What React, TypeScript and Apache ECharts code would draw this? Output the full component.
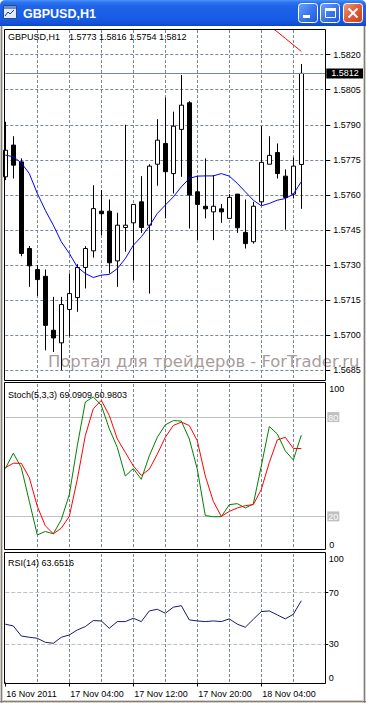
import React, { useEffect, useRef } from 'react';
import * as echarts from 'echarts';

const FONT = '"Liberation Sans", Arial, sans-serif';

const symbolName = 'GBPUSD,H1';

// Hourly bar times (38 bars + 3 empty future slots)
const barTimes: string[] = [];
for (let i = 0; i < 41; i++) {
  const h = 20 + i;
  const day = 16 + Math.floor(h / 24);
  barTimes.push(`2011.11.${day} ${String(h % 24).padStart(2, '0')}:00`);
}

const timeTickLabels = ['16 Nov 2011', '17 Nov 04:00', '17 Nov 12:00', '17 Nov 20:00', '18 Nov 04:00'];
const priceTicks = [1.5685, 1.57, 1.5715, 1.573, 1.5745, 1.576, 1.5775, 1.579, 1.5805, 1.582];
const stochLabelValues = [0, 20, 80, 100];
const stochLevels = [20, 80];
const rsiLabelValues = [0, 30, 70, 100];
const rsiLevels = [30, 70];

const openP = [1.57677, 1.57813, 1.57741, 1.5737, 1.5728, 1.57251, 1.5702, 1.56966, 1.57109, 1.5716,
  1.57289, 1.5736, 1.5753, 1.5753, 1.57317, 1.5746, 1.5748, 1.5757, 1.5747, 1.57731,
  1.5782, 1.57691, 1.5788, 1.57994, 1.57613, 1.57551, 1.57527, 1.5754, 1.57499, 1.57603,
  1.57439, 1.57399, 1.5757, 1.57731, 1.57781, 1.5768, 1.57603, 1.5773];
const closeP = [1.57791, 1.57727, 1.57349, 1.57296, 1.57237, 1.57041, 1.56987, 1.5713, 1.57177, 1.57289,
  1.5737, 1.57541, 1.57519, 1.57309, 1.5747, 1.5747, 1.57559, 1.5746, 1.57723, 1.57834,
  1.57699, 1.57894, 1.57984, 1.57599, 1.57559, 1.5754, 1.57551, 1.57527, 1.57589, 1.57459,
  1.57391, 1.57551, 1.57739, 1.57769, 1.57691, 1.57589, 1.57723, 1.5812];
const lowP = [1.57663, 1.5767, 1.57337, 1.57206, 1.57167, 1.56934, 1.56927, 1.56849, 1.56994, 1.57099,
  1.57199, 1.57331, 1.57427, 1.57263, 1.57206, 1.57356, 1.57234, 1.57437, 1.57177, 1.57639,
  1.57499, 1.57606, 1.57677, 1.57456, 1.57406, 1.57499, 1.57406, 1.5748, 1.57499, 1.57437,
  1.5737, 1.57391, 1.57556, 1.57731, 1.5767, 1.57451, 1.57584, 1.5754];
const highP = [1.57913, 1.57851, 1.57756, 1.57381, 1.57299, 1.5728, 1.57163, 1.57163, 1.57263, 1.57303,
  1.5738, 1.57641, 1.5762, 1.5758, 1.57523, 1.579, 1.5756, 1.5768, 1.57731, 1.57924,
  1.58016, 1.57956, 1.58113, 1.58001, 1.5768, 1.57756, 1.57684, 1.5756, 1.57603, 1.57603,
  1.5758, 1.5757, 1.57894, 1.57851, 1.5782, 1.57709, 1.5776, 1.5816];

const maValues = [1.5777, 1.57763, 1.57737, 1.57691, 1.57606, 1.57534, 1.5747, 1.57399, 1.57349, 1.57291,
  1.57263, 1.57246, 1.57256, 1.57259, 1.57284, 1.57327, 1.57384, 1.5742, 1.57466, 1.5752,
  1.57556, 1.57591, 1.57634, 1.5767, 1.5768, 1.57681, 1.57681, 1.57691, 1.5768, 1.57649,
  1.57613, 1.57577, 1.57553, 1.57563, 1.57577, 1.57584, 1.57603, 1.57656];
const redLine: (number | null)[] = [null, null, null, null, null, null, null, null, null, null,
  null, null, null, null, null, null, null, null, null, null,
  null, null, null, null, null, null, null, null, null, null,
  null, null, null, 1.58325, 1.58298, 1.5827, 1.58242, 1.58214];

const stochK = [48.9, 58.2, 49.5, 29.1, 8.8, 10.9, 9.5, 18.0, 33.2, 62.7,
  89.1, 92.2, 87.1, 72.9, 61.7, 44.4, 48.9, 42.4, 56.6, 67.8,
  75.3, 77.9, 77.6, 66.8, 48.5, 20.5, 19.8, 19.8, 27.1, 27.7,
  25.1, 27.5, 50.5, 74.3, 69.8, 59.6, 54.1, 69.0909];
const stochD = [49.5, 52.1, 52.1, 43.4, 26.1, 14.3, 9.5, 12.9, 20.0, 42.4,
  68.8, 85.1, 90.1, 81.0, 66.8, 58.7, 50.5, 44.8, 48.5, 57.6,
  67.8, 74.9, 77.0, 74.9, 65.7, 44.4, 29.1, 20.0, 23.0, 25.1,
  26.5, 27.1, 36.3, 52.6, 66.2, 67.8, 61.1, 60.9803];
const rsiValues = [45.4, 44.0, 36.2, 35.2, 34.4, 31.3, 30.5, 35.2, 37.0, 40.9,
  43.5, 48.2, 47.9, 42.2, 47.4, 47.4, 50.0, 47.4, 55.7, 57.0,
  53.9, 58.6, 59.8, 48.7, 47.9, 47.4, 47.9, 47.4, 49.5, 45.4,
  43.0, 49.2, 55.2, 55.7, 52.6, 49.5, 53.1, 63.6516];

const PRICE_MIN = 1.56807;
const PRICE_MAX = 1.583058;

function buildOption() {
  const last = openP.length - 1;
  const candleData = openP.map((o, i) => [o, closeP[i], lowP[i], highP[i]]);
  const gridColor = '#778899';
  const vGrid = (idx: number) => idx % 4 === 0 && idx > 0 && idx < 40;
  const timeTick = (idx: number) => idx % 8 === 0 && idx / 8 < timeTickLabels.length;

  const xAxes = [0, 1, 2].map((g) => ({
    type: 'category',
    gridIndex: g,
    data: barTimes,
    boundaryGap: false,
    axisLine: { show: false },
    axisTick: { show: g === 2, interval: timeTick, length: 4, lineStyle: { color: '#000' } },
    axisLabel: {
      show: g === 2,
      interval: timeTick,
      formatter: (_v: string, idx: number) => timeTickLabels[idx / 8] ?? '',
      align: 'left',
      margin: 7,
      color: '#000',
      fontSize: 9,
      fontFamily: FONT,
      padding: [0, 0, 0, 1],
    },
    splitLine: { show: true, interval: vGrid, lineStyle: { color: gridColor, type: [3, 2], width: 1 } },
  }));

  const graphics: any[] = [
    // window frame
    { type: 'rect', shape: { x: 0, y: 26, width: 3, height: 677 }, style: { fill: '#D4D0C8' }, z: 120, silent: true },
    { type: 'line', shape: { x1: 1.5, y1: 26, x2: 1.5, y2: 703 }, style: { stroke: '#808080', lineWidth: 1 }, z: 121, silent: true },
    { type: 'rect', shape: { x: 363, y: 26, width: 3, height: 677 }, style: { fill: '#D4D0C8' }, z: 120, silent: true },
    { type: 'line', shape: { x1: 364.5, y1: 26, x2: 364.5, y2: 703 }, style: { stroke: '#808080', lineWidth: 1 }, z: 121, silent: true },
    { type: 'rect', shape: { x: 0, y: 700, width: 366, height: 3 }, style: { fill: '#D4D0C8' }, z: 120, silent: true },
    { type: 'line', shape: { x1: 0, y1: 701.5, x2: 366, y2: 701.5 }, style: { stroke: '#808080', lineWidth: 1 }, z: 121, silent: true },
    // title bar
    {
      type: 'rect', shape: { x: 0, y: 0, width: 366, height: 26, r: [5, 5, 0, 0] }, z: 120, silent: true,
      style: {
        fill: {
          type: 'linear', x: 0, y: 0, x2: 0, y2: 1,
          colorStops: [
            { offset: 0, color: '#4B93FA' }, { offset: 0.1, color: '#2B72EF' }, { offset: 0.25, color: '#1E63E8' },
            { offset: 0.7, color: '#175CE5' }, { offset: 0.9, color: '#1352DA' }, { offset: 1, color: '#0C45C4' },
          ],
        },
      },
    },
    // icon
    { type: 'rect', shape: { x: 3.5, y: 5.5, width: 13, height: 13 }, style: { fill: '#E4EAF4', stroke: '#2A4A8A', lineWidth: 1 }, z: 122, silent: true },
    { type: 'rect', shape: { x: 4, y: 6, width: 12, height: 3 }, style: { fill: '#6A8FD0' }, z: 123, silent: true },
    { type: 'polyline', shape: { points: [[5, 16], [8, 12], [10, 14], [14, 10]] }, style: { stroke: '#1040A0', lineWidth: 1, fill: 'none' }, z: 123, silent: true },
    { type: 'text', x: 23, y: 13.5, z: 123, silent: true, style: { text: symbolName, fill: '#FFFFFF', fontSize: 12.5, fontWeight: 'bold', fontFamily: FONT, verticalAlign: 'middle' } },
    // buttons
    ...[298.5, 320.5].map((bx) => ({
      type: 'rect', shape: { x: bx, y: 3.5, width: 19, height: 19, r: 3 }, z: 122, silent: true,
      style: {
        stroke: '#FFFFFF', lineWidth: 1,
        fill: { type: 'linear', x: 0, y: 0, x2: 1, y2: 1, colorStops: [{ offset: 0, color: '#6FA4FB' }, { offset: 0.5, color: '#3B78EC' }, { offset: 1, color: '#2258D8' }] },
      },
    })),
    {
      type: 'rect', shape: { x: 343.5, y: 3.5, width: 19, height: 19, r: 3 }, z: 122, silent: true,
      style: {
        stroke: '#FFFFFF', lineWidth: 1,
        fill: { type: 'linear', x: 0, y: 0, x2: 1, y2: 1, colorStops: [{ offset: 0, color: '#F0A080' }, { offset: 0.45, color: '#E0603A' }, { offset: 1, color: '#C8401C' }] },
      },
    },
    { type: 'rect', shape: { x: 303, y: 15, width: 7, height: 3 }, style: { fill: '#FFFFFF' }, z: 123, silent: true },
    { type: 'rect', shape: { x: 325.5, y: 8.5, width: 10, height: 9 }, style: { fill: 'none', stroke: '#FFFFFF', lineWidth: 1 }, z: 123, silent: true },
    { type: 'rect', shape: { x: 325, y: 8, width: 11, height: 3 }, style: { fill: '#FFFFFF' }, z: 123, silent: true },
    { type: 'line', shape: { x1: 348.5, y1: 8.5, x2: 357.5, y2: 17.5 }, style: { stroke: '#FFFFFF', lineWidth: 2 }, z: 123, silent: true },
    { type: 'line', shape: { x1: 357.5, y1: 8.5, x2: 348.5, y2: 17.5 }, style: { stroke: '#FFFFFF', lineWidth: 2 }, z: 123, silent: true },
    // pane borders
    { type: 'rect', shape: { x: 4.5, y: 29.5, width: 321, height: 351 }, style: { fill: 'none', stroke: '#000', lineWidth: 1 }, z: 100, silent: true },
    { type: 'rect', shape: { x: 4.5, y: 382.5, width: 321, height: 167 }, style: { fill: 'none', stroke: '#000', lineWidth: 1 }, z: 100, silent: true },
    { type: 'rect', shape: { x: 4.5, y: 552.5, width: 321, height: 131 }, style: { fill: 'none', stroke: '#000', lineWidth: 1 }, z: 100, silent: true },
    // pane captions
    { type: 'text', x: 8, y: 37, z: 101, silent: true, style: { text: symbolName, fill: '#000', fontSize: 9, fontFamily: FONT, verticalAlign: 'middle' } },
    {
      type: 'text', x: 69, y: 37, z: 101, silent: true,
      style: { text: `${openP[last].toFixed(4)} ${highP[last].toFixed(4)} ${lowP[last].toFixed(4)} ${closeP[last].toFixed(4)}`, fill: '#000', fontSize: 9, fontFamily: FONT, verticalAlign: 'middle' },
    },
    {
      type: 'text', x: 8, y: 395, z: 101, silent: true,
      style: { text: `Stoch(5,3,3) ${stochK[last].toFixed(4)} ${stochD[last].toFixed(4)}`, fill: '#000', fontSize: 9, fontFamily: FONT, verticalAlign: 'middle' },
    },
    {
      type: 'text', x: 8, y: 562.5, z: 101, silent: true,
      style: { text: `RSI(14) ${rsiValues[last].toFixed(4)}`, fill: '#000', fontSize: 9, fontFamily: FONT, verticalAlign: 'middle' },
    },
    // watermark
    {
      type: 'text', x: 48, y: 361, z: 1, silent: true,
      style: { text: 'Портал для трейдеров - ForTrader.ru', fill: '#A99C9C', fontSize: 16.4, fontFamily: '"DejaVu Sans", Verdana, sans-serif', verticalAlign: 'middle' },
    },
  ];

  return {
    animation: false,
    backgroundColor: '#FFFFFF',
    textStyle: { fontFamily: FONT, fontSize: 9 },
    grid: [
      { left: 5.3, top: 30, width: 320, height: 350 },
      { left: 5.3, top: 384, width: 320, height: 165.5 },
      { left: 5.3, top: 554, width: 320, height: 128.5 },
    ],
    xAxis: xAxes,
    yAxis: [
      {
        type: 'value', gridIndex: 0, position: 'right', min: PRICE_MIN, max: PRICE_MAX, scale: true,
        axisLine: { show: false },
        axisTick: { show: true, customValues: priceTicks, length: 5, lineStyle: { color: '#000' } },
        axisLabel: { customValues: priceTicks, formatter: (v: number) => v.toFixed(4), margin: 8, color: '#000', fontSize: 9, fontFamily: FONT },
        splitLine: { show: true, lineStyle: { color: gridColor, type: [3, 2], width: 1 } },
      },
      {
        type: 'value', gridIndex: 1, position: 'right', min: 0, max: 100,
        axisLine: { show: false },
        axisTick: { show: false, customValues: stochLevels },
        axisLabel: {
          customValues: stochLabelValues,
          formatter: (v: number) => (stochLevels.includes(v) ? `{lv|${v}}` : `{pl|${v}}`),
          margin: 2,
          verticalAlignMinLabel: 'bottom',
          verticalAlignMaxLabel: 'top',
          rich: {
            lv: { backgroundColor: '#C0C0C0', color: '#FFFFFF', padding: [1, 1, 0, 1], fontSize: 9, fontFamily: FONT },
            pl: { color: '#000', padding: [0, 0, 0, 2], fontSize: 9, fontFamily: FONT },
          },
        },
        splitLine: { show: true, lineStyle: { color: '#C0C0C0', type: 'solid', width: 1 } },
      },
      {
        type: 'value', gridIndex: 2, position: 'right', min: 0, max: 100,
        axisLine: { show: false },
        axisTick: { show: true, customValues: rsiLevels, length: 3, lineStyle: { color: '#000' } },
        axisLabel: {
          customValues: rsiLabelValues, margin: 3.5, color: '#000', fontSize: 9, fontFamily: FONT,
          verticalAlignMinLabel: 'bottom', verticalAlignMaxLabel: 'top',
        },
        splitLine: { show: true, lineStyle: { color: '#C0C0C0', type: [4, 2], width: 1 } },
      },
    ],
    series: [
      {
        type: 'candlestick', xAxisIndex: 0, yAxisIndex: 0, data: candleData, barWidth: 4,
        itemStyle: { color: '#FFFFFF', color0: '#000000', borderColor: '#000000', borderColor0: '#000000', borderWidth: 1 },
        markLine: {
          silent: true, symbol: ['none', 'none'], animation: false, precision: 5,
          lineStyle: { color: '#778899', type: 'solid', width: 1 },
          label: {
            show: true, position: 'end', distance: 1, formatter: (p: any) => Number(p.value).toFixed(4),
            backgroundColor: '#000', color: '#FFF', padding: [1, 5, 0, 5], fontSize: 9, fontFamily: FONT,
          },
          data: [{ yAxis: closeP[last] }],
        },
      },
      { type: 'line', xAxisIndex: 0, yAxisIndex: 0, data: maValues, showSymbol: false, symbol: 'none', lineStyle: { color: '#0000FF', width: 1 } },
      { type: 'line', xAxisIndex: 0, yAxisIndex: 0, data: redLine, showSymbol: false, symbol: 'none', lineStyle: { color: '#FF0000', width: 1 } },
      { type: 'line', xAxisIndex: 1, yAxisIndex: 1, data: stochK, showSymbol: false, symbol: 'none', lineStyle: { color: '#008000', width: 1 } },
      { type: 'line', xAxisIndex: 1, yAxisIndex: 1, data: stochD, showSymbol: false, symbol: 'none', lineStyle: { color: '#FF0000', width: 1 } },
      { type: 'line', xAxisIndex: 2, yAxisIndex: 2, data: rsiValues, showSymbol: false, symbol: 'none', lineStyle: { color: '#191970', width: 1 } },
    ],
    graphic: { elements: graphics },
  };
}

export default function App() {
  const ref = useRef<HTMLDivElement>(null);
  useEffect(() => {
    document.body.style.margin = '0';
    const chart = echarts.init(ref.current!, null, { renderer: 'svg' });
    chart.setOption(buildOption() as any);
    return () => chart.dispose();
  }, []);
  return <div ref={ref} style={{ width: 366, height: 703 }} />;
}
